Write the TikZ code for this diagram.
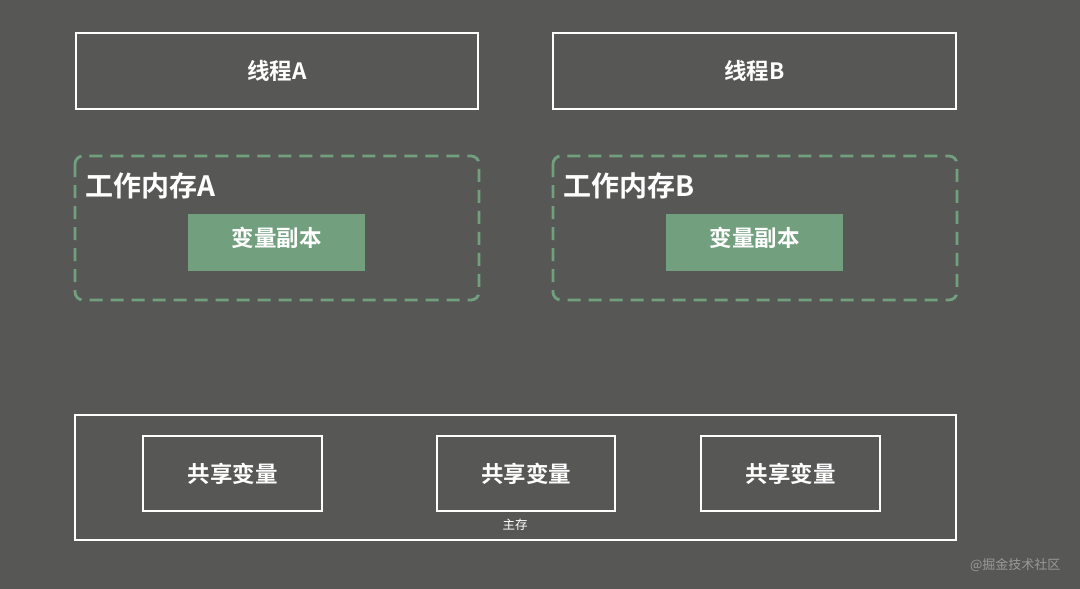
\documentclass[tikz,border=0pt]{standalone}
\usepackage{fontspec}
\setmainfont{Noto Sans CJK SC}
\newfontfamily\cjkb{Noto Sans CJK SC Bold}
\definecolor{bg}{HTML}{575856}
\definecolor{gr}{HTML}{72A07F}
\definecolor{wm}{HTML}{9A9B99}
\begin{document}
\begin{tikzpicture}[x=1pt,y=-1pt,
  wbox/.style={draw=white,line width=2.5pt,minimum width=#1,minimum height=76pt,inner sep=0pt},
  dbox/.style={draw=gr,line width=2.8pt,dash pattern=on 13pt off 8pt,rounded corners=8pt},
  gbox/.style={fill=gr,minimum width=177pt,minimum height=57pt,inner sep=0pt},
  lab/.style={text=white,font=\cjkb\fontsize{22.5}{24}\selectfont},
  big/.style={text=white,font=\cjkb\fontsize{28}{30}\selectfont,anchor=west}]
\fill[bg] (0,0) rectangle (1080,589);
\useasboundingbox (0,0) rectangle (1080,589);
% threads
\node[wbox=402pt,lab] (ta) at (277,71) {线程A};
\node[wbox=403pt,lab] (tb) at (754.5,71) {线程B};
% working memory
\draw[dbox] (75,156) rectangle (479,300);
\draw[dbox] (553,156) rectangle (957,300);
\node[big] (wa) at (82,186) {工作内存A};
\node[big] (wb) at (560,186) {工作内存B};
\node[gbox,lab] (ca) at (276.5,242.5) {\raisebox{-4pt}[0pt][0pt]{变量副本}};
\node[gbox,lab] (cb) at (754.5,242.5) {\raisebox{-4pt}[0pt][0pt]{变量副本}};
% main memory
\draw[white,line width=2.5pt,line cap=round] (75,415) rectangle (956,540);
\node[wbox=179pt,minimum height=75pt,lab] (s1) at (232.5,473.5) {共享变量};
\node[wbox=178pt,minimum height=75pt,lab] (s2) at (526,473.5) {共享变量};
\node[wbox=179pt,minimum height=75pt,lab] (s3) at (790.5,473.5) {共享变量};
\node[text=white,font=\fontsize{12.5}{13}\selectfont] (mm) at (515,525) {主存};
\node[text=wm,font=\fontsize{13}{14}\selectfont,anchor=east] (wmk) at (1064,565) {@掘金技术社区};
\end{tikzpicture}
\end{document}
